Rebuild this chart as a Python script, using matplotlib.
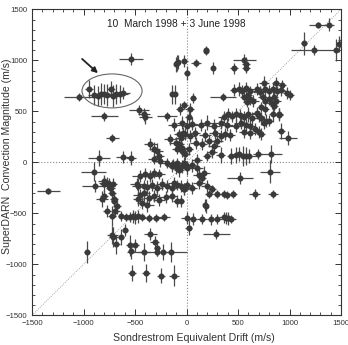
import matplotlib
matplotlib.use('Agg')
import matplotlib.pyplot as plt
from matplotlib.patches import Ellipse
from matplotlib.ticker import MultipleLocator

plt.rcParams['font.family'] = ['Liberation Sans', 'DejaVu Sans']

# Sondrestrom equivalent drift (m/s), grouped by region of the plot
drift = [
    # circled group
    -1040, -950, -900, -860, -830, -800, -770, -730, -710, -680, -650, -620,
    # isolated left points
    -540, -800, -720, -460, -410, -400, -850, -900, -620, -540, -1340, -970,
    # upper middle
    -140, -110, -105, -90, -80, -20, 0, 95, 185, 185, 260, 460, 560, 575, 580, 60, 355, -60, -190, 20, 30, -20,
    # top right
    1140, 1240, 1280, 1380, 1450, 1480, 1495,
    # right middle
    920, 985, 900, 820, 810, 520, 660, 840,
    # row near 60
    330, 430, 480, 550, 580, 610, 510, 200, 690,
    # row near -310
    215, 300, 365, 395, 450, 250,
    # row near -540 (right)
    0, 20, 60, 150, 190, 180, 240, 300, 360, 380, 400, 430, 290, -50, -20,
    # row near -540 (left)
    -220, -300, -360, -430, -470, -500, -520, -550, -590, -640, -720,
    # lower left
    -600, -710, -635, -680, -720, -545, -500, -415, -540, -350, -290, -310, -225, -150, -530, -395, -245, -120, -290,
    # central cluster
    -350, -311, -285, -269, -318, -253, -156, -107, -58, -32, -75, -90, -42, -10, 22, -188, -139, -90, -26, 7,
    -447, -399, -350, -318, -269, -479, -415, -382, -334, -285, -236, -188, -139, -90, -447, -366, -318, -269,
    -204, -139, -804, -771, -739, -722, -820, -706, -674, -771, -690, -90,
    -884, -804, -755, -716, -804, -706, -473, -473, -415,
    -123, -42, 7, 55, 136, 201, 266, 330, 396, 476, 525, 574,
    -12, 36, 85, 182, 279, 330, 376, 425,
    -75, -42,
    88, 152, 217, 266, 298,
    -130, -107, -75, -42, 4, 55, 104, 168,
    -123, -58, 7, 55, 120, 201,
    # upper right band
    460, 510, 540, 580, 620, 680, 751, 865, 930, 914, 979, 710, 760, 800, 840, 880, 1000,
    738, 760, 800, 850, 870, 830,
    560, 600, 620, 650, 590,
    722, 760, 850, 840, 897,
    722, 770, 800, 750, 700, 680,
    480, 520, 560, 600, 640, 440, 400, 360,
    620, 660, 700, 720, 620, 560,
    # extra
    -430, -380, 120, 150, 100, -20, 250,
]

# SuperDARN convection magnitude (m/s)
conv = [
    640, 720, 660, 650, 670, 670, 660, 720, 650, 670, 670, 680,
    1010, 450, 240, 510, 470, 440, 40, -90, 50, 40, -280, -880,
    665, 665, 960, 975, 985, 990, 875, 975, 1100, 1095, 925, 920, 1000, 960, 920, 630, 640, 525, 450, 440, 520, 560,
    1165, 1100, 1350, 1350, 1100, 1160, 1160,
    305, 240, 475, 80, -90, -150, -310, -310,
    75, 60, 70, 60, 60, 60, 80, 60, 80,
    -310, -310, -310, -320, -310, -265,
    -545, -640, -555, -555, -430, -420, -560, -555, -540, -545, -550, -555, -705, -380, -260,
    -540, -545, -545, -540, -530, -540, -530, -535, -540, -525, -525,
    -660, -735, -735, -805, -715, -815, -815, -880, -870, -705, -840, -780, -880, -880, -1085, -1085, -1110, -1110, -880,
    176, 127, 110, 61, 29, 13, 224, 192, 241, 290, 273, 127, 110, 78, 127, -3, -36, -3, -3, -36,
    -134, -117, -134, -101, -117, -215, -230, -240, -220, -250, -215, -230, -250, -220, -320, -350, -330, -370,
    -340, -330, -183, -199, -248, -296, -361, -361, -426, -475, -475, -377,
    -231, -215, -215, -215, -329, -377, -231, -358, -296,
    370, 390, 360, 380, 365, 390, 360, 385, 370, 360, 390, 365,
    275, 260, 290, 270, 285, 260, 280, 270,
    176, 143,
    192, 176, 208, 159, 208,
    -20, -50, -80, -40, -60, -30, -60, -100,
    -200, -230, -220, -250, -200, -230,
    712, 720, 700, 730, 700, 720, 778, 778, 761, 712, 680, 690, 720, 700, 720, 700, 660,
    640, 600, 620, 645, 600, 585,
    640, 660, 620, 600, 590,
    540, 520, 550, 470, 468,
    430, 410, 410, 390, 450, 480,
    470, 460, 440, 470, 430, 450, 470, 440,
    360, 330, 300, 280, 290, 300,
    -400, -420, -120, -150, 20, -260, 100,
]

drift_err = [
    150, 40, 60, 40, 60, 80, 40, 40, 40, 50, 80, 70,
    120, 130, 60, 100, 60, 60, 110, 120, 60, 50, 110, 30,
    20, 20, 20, 20, 20, 30, 20, 50, 20, 20, 20, 40, 110, 40, 40, 30, 130, 40, 100, 30, 40, 30,
    30, 230, 90, 50, 30, 30, 20,
    40, 90, 40, 110, 100, 130, 50, 50,
    40, 40, 40, 50, 40, 90, 40, 40, 40,
    40, 40, 30, 30, 40, 40,
    50, 30, 40, 50, 20, 20, 40, 40, 40, 40, 40, 50, 130, 30, 40,
    60, 60, 80, 40, 60, 50, 40, 50, 50, 30, 40,
    30, 40, 30, 30, 50, 40, 40, 60, 30, 60, 30, 40, 80, 30, 40, 40, 40, 50, 290,
    60, 50, 60, 50, 60, 70, 60, 60, 50, 40, 50, 50, 50, 40, 40, 60, 60, 50, 40, 40,
    80, 70, 60, 60, 60, 70, 80, 60, 60, 60, 60, 60, 50, 50, 70, 60, 50, 60,
    60, 50, 60, 80, 40, 40, 60, 40, 40, 40, 40, 40,
    130, 40, 40, 40, 40, 30, 60, 50, 60,
    60, 50, 50, 60, 60, 70, 60, 60, 60, 60, 60, 40,
    60, 60, 50, 60, 60, 60, 60, 50,
    50, 50,
    50, 50, 50, 60, 60,
    60, 60, 50, 50, 50, 40, 60, 60,
    60, 60, 60, 50, 60, 60,
    40, 40, 50, 40, 50, 50, 50, 40, 40, 40, 40, 60, 90, 100, 50, 100, 40,
    40, 30, 40, 40, 50, 50,
    40, 40, 50, 50, 40,
    30, 40, 40, 40, 40,
    30, 40, 40, 30, 40, 40,
    60, 40, 50, 60, 40, 50, 50, 50,
    40, 40, 40, 40, 50, 50,
    50, 60, 60, 40, 50, 40, 50,
]

conv_err = [
    40, 90, 100, 100, 110, 100, 110, 80, 110, 100, 90, 60,
    60, 40, 40, 50, 60, 60, 80, 90, 60, 70, 30, 110,
    90, 90, 70, 80, 70, 60, 70, 40, 40, 40, 60, 50, 60, 70, 40, 50, 40, 60, 40, 60, 60, 40,
    110, 50, 30, 60, 110, 80, 60,
    80, 70, 60, 90, 110, 60, 50, 40,
    80, 80, 80, 100, 90, 70, 70, 50, 50,
    40, 40, 40, 40, 40, 40,
    60, 70, 60, 50, 70, 60, 50, 50, 50, 60, 60, 40, 50, 60, 60,
    40, 40, 40, 40, 60, 60, 60, 50, 40, 50, 100,
    60, 100, 80, 90, 90, 100, 60, 90, 80, 60, 80, 60, 80, 100, 80, 90, 70, 100, 40,
    60, 70, 80, 60, 50, 60, 50, 60, 60, 60, 50, 50, 60, 60, 60, 50, 60, 50, 60, 50,
    60, 60, 60, 50, 50, 60, 60, 70, 60, 70, 60, 60, 60, 50, 60, 70, 60, 60,
    60, 60, 60, 60, 60, 60, 80, 60, 80, 60, 60, 60,
    60, 80, 60, 60, 60, 60, 80, 70, 80,
    60, 60, 70, 60, 60, 70, 60, 60, 60, 60, 60, 60,
    60, 60, 60, 60, 60, 60, 60, 60,
    60, 60,
    60, 60, 60, 60, 60,
    50, 60, 60, 60, 60, 60, 60, 60,
    60, 60, 50, 60, 60, 60,
    60, 70, 60, 60, 50, 60, 70, 60, 50, 60, 60, 60, 60, 60, 70, 50, 50,
    60, 60, 60, 60, 50, 60,
    50, 60, 60, 60, 50,
    50, 60, 50, 70, 60,
    60, 60, 50, 60, 50, 60,
    60, 60, 60, 70, 60, 50, 60, 60,
    60, 60, 60, 60, 60, 60,
    60, 70, 60, 60, 60, 60, 60,
]

title = '10  March 1998 + 3 June 1998'

fig = plt.figure(figsize=(3.48, 3.45), dpi=100)
ax = fig.add_axes([0.092, 0.086, 0.888, 0.887])

ax.axhline(0, ls=':', color='#888888', lw=0.8, zorder=1)
ax.axvline(0, ls=':', color='#888888', lw=0.8, zorder=1)
ax.plot([-1500, 1500], [-1500, 1500], ls=':', color='#888888', lw=0.6, zorder=1)

ax.errorbar(drift, conv, xerr=drift_err, yerr=conv_err, fmt='o', ms=3.3,
            color='#3a3a3a', ecolor='#4a4a4a', elinewidth=0.9, capsize=0, zorder=3)

ax.add_patch(Ellipse((-723, 700), 583, 333, fill=False, ec='#666666', lw=0.8, zorder=4))
ax.annotate('', xy=(-840, 856), xytext=(-1034, 1032),
            arrowprops=dict(arrowstyle='-|>', color='#222222', lw=1.3, mutation_scale=8))
ax.text(-100, 1356, title, ha='center', va='center', fontsize=7.3, color='#222222')

ax.set_xlim(-1500, 1500)
ax.set_ylim(-1500, 1500)
for axis in (ax.xaxis, ax.yaxis):
    axis.set_major_locator(MultipleLocator(500))
    axis.set_minor_locator(MultipleLocator(100))
ax.tick_params(which='both', direction='in', top=True, right=True, labelsize=5.6, colors='#333333')
ax.tick_params(which='major', length=4, width=0.7)
ax.tick_params(which='minor', length=2.5, width=0.6)
for sp in ax.spines.values():
    sp.set_linewidth(0.8)
    sp.set_color('#333333')

ax.set_xlabel('Sondrestrom Equivalent Drift (m/s)', fontsize=7.6, color='#333333')
ax.set_ylabel('SuperDARN  Convection Magnitude (m/s)', fontsize=7.6, color='#333333')
ax.xaxis.set_label_coords(0.524, -0.058)
ax.yaxis.set_label_coords(-0.066, 0.52)

plt.savefig('out.png', dpi=100)
